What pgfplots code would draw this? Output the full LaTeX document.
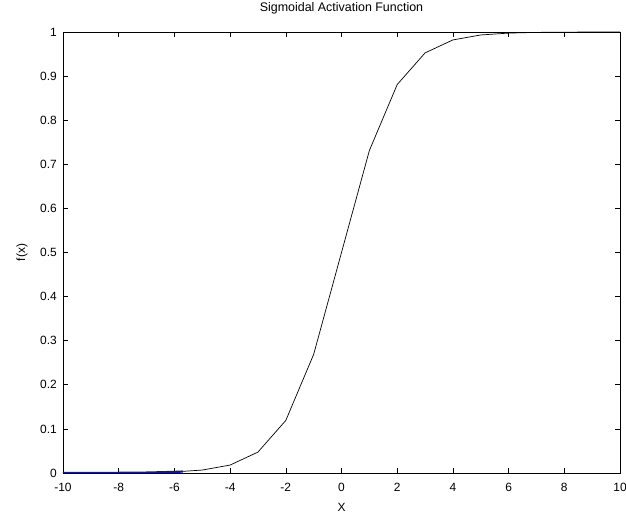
\documentclass[border=0pt]{standalone}
\usepackage{pgfplots}
\pgfplotsset{compat=1.18}
\usepackage{fontspec}
\setmainfont{Liberation Sans}
\definecolor{mblue}{rgb}{0.08,0.08,0.55}
\begin{document}
\begin{tikzpicture}
\useasboundingbox (-63bp,-44bp) rectangle (563bp,473bp);
\begin{axis}[
  at={(0,0)}, anchor=south west,
  scale only axis, width=557bp, height=441bp,
  xmin=-10, xmax=10, ymin=0, ymax=1,
  xtick={-10,-8,...,10},
  ytick={0,0.1,...,1},
  yticklabels={0,0.1,0.2,0.3,0.4,0.5,0.6,0.7,0.8,0.9,1},
  tick align=inside,
  major tick length=5bp,
  axis line style={line width=0.8bp},
  tick style={line width=0.6bp, black},
  /pgf/number format/assume math mode=true,
  ticklabel style={font=\fontsize{12}{14}\selectfont, inner sep=0pt},
  xticklabel style={yshift=-10bp},
  yticklabel style={xshift=-6bp},
  title={Sigmoidal Activation Function},
  title style={font=\fontsize{12.5}{14}\selectfont, inner sep=0pt, at={(0.5,1)}, anchor=south, yshift=12bp},
  xlabel={X},
  xlabel style={font=\fontsize{12}{14}\selectfont, inner sep=0pt, at={(axis description cs:0.5,-0.077)}, anchor=center},
  ylabel={f(x)},
  ylabel style={font=\fontsize{12}{14}\selectfont, inner sep=0pt, at={(axis description cs:-0.0736,0.5)}, anchor=center},
]
\addplot[black, line width=0.7bp] coordinates {
(-10,0.0000454)(-9,0.000123)(-8,0.000335)(-7,0.000911)(-6,0.00247)(-5,0.00669)(-4,0.0180)(-3,0.0474)(-2,0.1192)(-1,0.2689)(0,0.5)(1,0.7311)(2,0.8808)(3,0.9526)(4,0.9820)(5,0.9933)(6,0.9975)(7,0.9991)(8,0.99966)(9,0.99988)(10,0.99995)};
\addplot[mblue, line width=2.2bp] coordinates {
(-10,0.0000454)(-9,0.000123)(-8,0.000335)(-7,0.000911)(-6,0.00247)(-5.7,0.0033)};
\end{axis}
\end{tikzpicture}
\end{document}
